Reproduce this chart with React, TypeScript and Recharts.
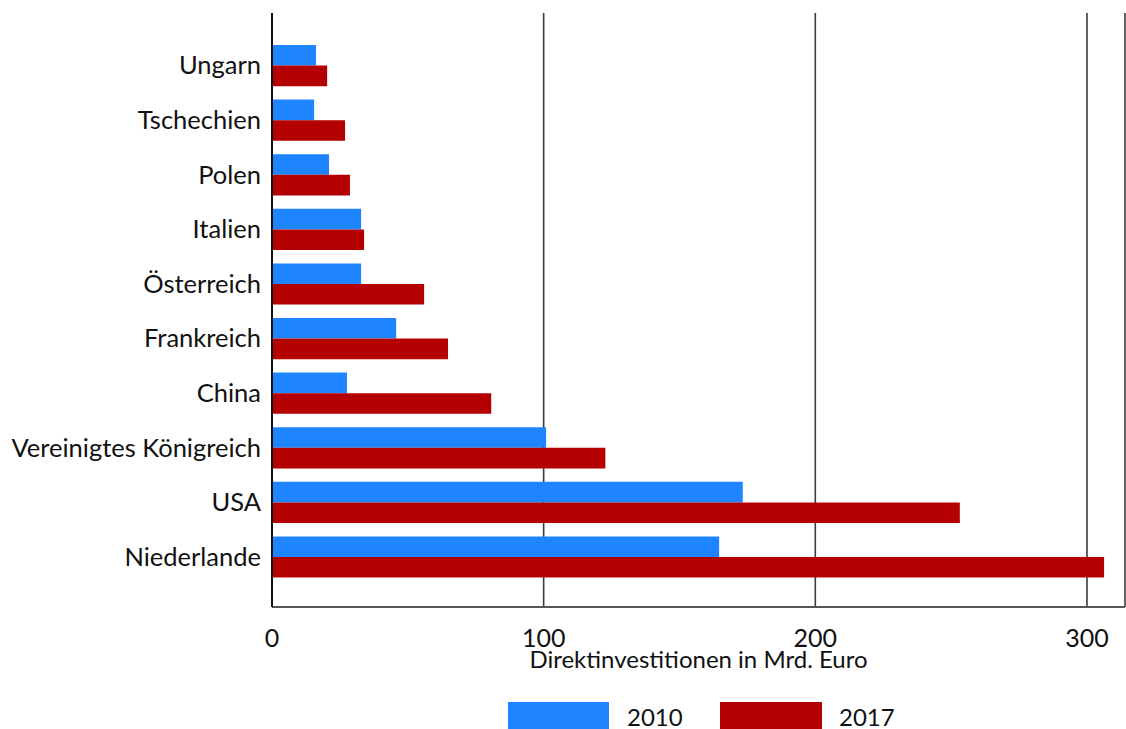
import { Bar, BarChart, CartesianGrid, Label, XAxis, YAxis } from "recharts";

const countries = [
  "Ungarn",
  "Tschechien",
  "Polen",
  "Italien",
  "Österreich",
  "Frankreich",
  "China",
  "Vereinigtes Königreich",
  "USA",
  "Niederlande",
];
const values2010 = [16.2, 15.5, 21, 32.8, 32.8, 45.7, 27.6, 100.9, 173.3, 164.6];
const values2017 = [20.3, 26.9, 28.7, 33.9, 56, 64.8, 80.7, 122.7, 253.2, 306.3];
const xTicks = [0, 100, 200, 300];
const seriesNames = ["2010", "2017"];

const BLUE = "#1e84ff";
const RED = "#b40000";
const FONT = "Lato, sans-serif";

const data = countries.map((c, i) => ({ country: c, y2010: values2010[i], y2017: values2017[i] }));

// legend sits at the very bottom edge, partly cropped like the source
function LegendRow() {
  return (
    <svg width={1126} height={729} style={{ position: "absolute", left: 0, top: 0, pointerEvents: "none" }}>
      <rect x={508} y={702} width={101} height={30} fill={BLUE} />
      <text x={627} y={726} fontFamily={FONT} fontSize={24} fill="#111">{seriesNames[0]}</text>
      <rect x={720} y={702} width={102} height={30} fill={RED} />
      <text x={839} y={726} fontFamily={FONT} fontSize={24} fill="#111">{seriesNames[1]}</text>
    </svg>
  );
}

export default function App() {
  return (
    <div style={{ position: "absolute", left: 0, top: 0, width: 1126, height: 729, overflow: "hidden", background: "#fff" }}>
      <BarChart
        width={1126}
        height={729}
        data={data}
        layout="vertical"
        barSize={20.6}
        barGap={0}
        margin={{ top: 13, right: 1, bottom: 61, left: 0 }}
      >
        <CartesianGrid horizontal={false} stroke="#3c3c3c" strokeWidth={1.6} />
        <XAxis
          type="number"
          domain={[0, 314]}
          ticks={xTicks}
          height={61}
          tickSize={0}
          tickMargin={22}
          axisLine={{ stroke: "#555", strokeWidth: 2 }}
          tick={{ fill: "#111", fontSize: 25, fontFamily: FONT }}
        >
          <Label
            value="Direktinvestitionen in Mrd. Euro"
            position="insideBottom"
            offset={0}
            style={{ fill: "#111", fontSize: 24, fontFamily: FONT }}
          />
        </XAxis>
        <YAxis
          type="category"
          dataKey="country"
          width={272}
          padding={{ top: 25, bottom: 23 }}
          tickSize={0}
          tickMargin={11}
          axisLine={{ stroke: "#111", strokeWidth: 2 }}
          tick={{ fill: "#111", fontSize: 25.5, fontFamily: FONT }}
          interval={0}
        />
        <Bar dataKey="y2010" name={seriesNames[0]} fill={BLUE} isAnimationActive={false} />
        <Bar dataKey="y2017" name={seriesNames[1]} fill={RED} isAnimationActive={false} />
      </BarChart>
      <LegendRow />
    </div>
  );
}
